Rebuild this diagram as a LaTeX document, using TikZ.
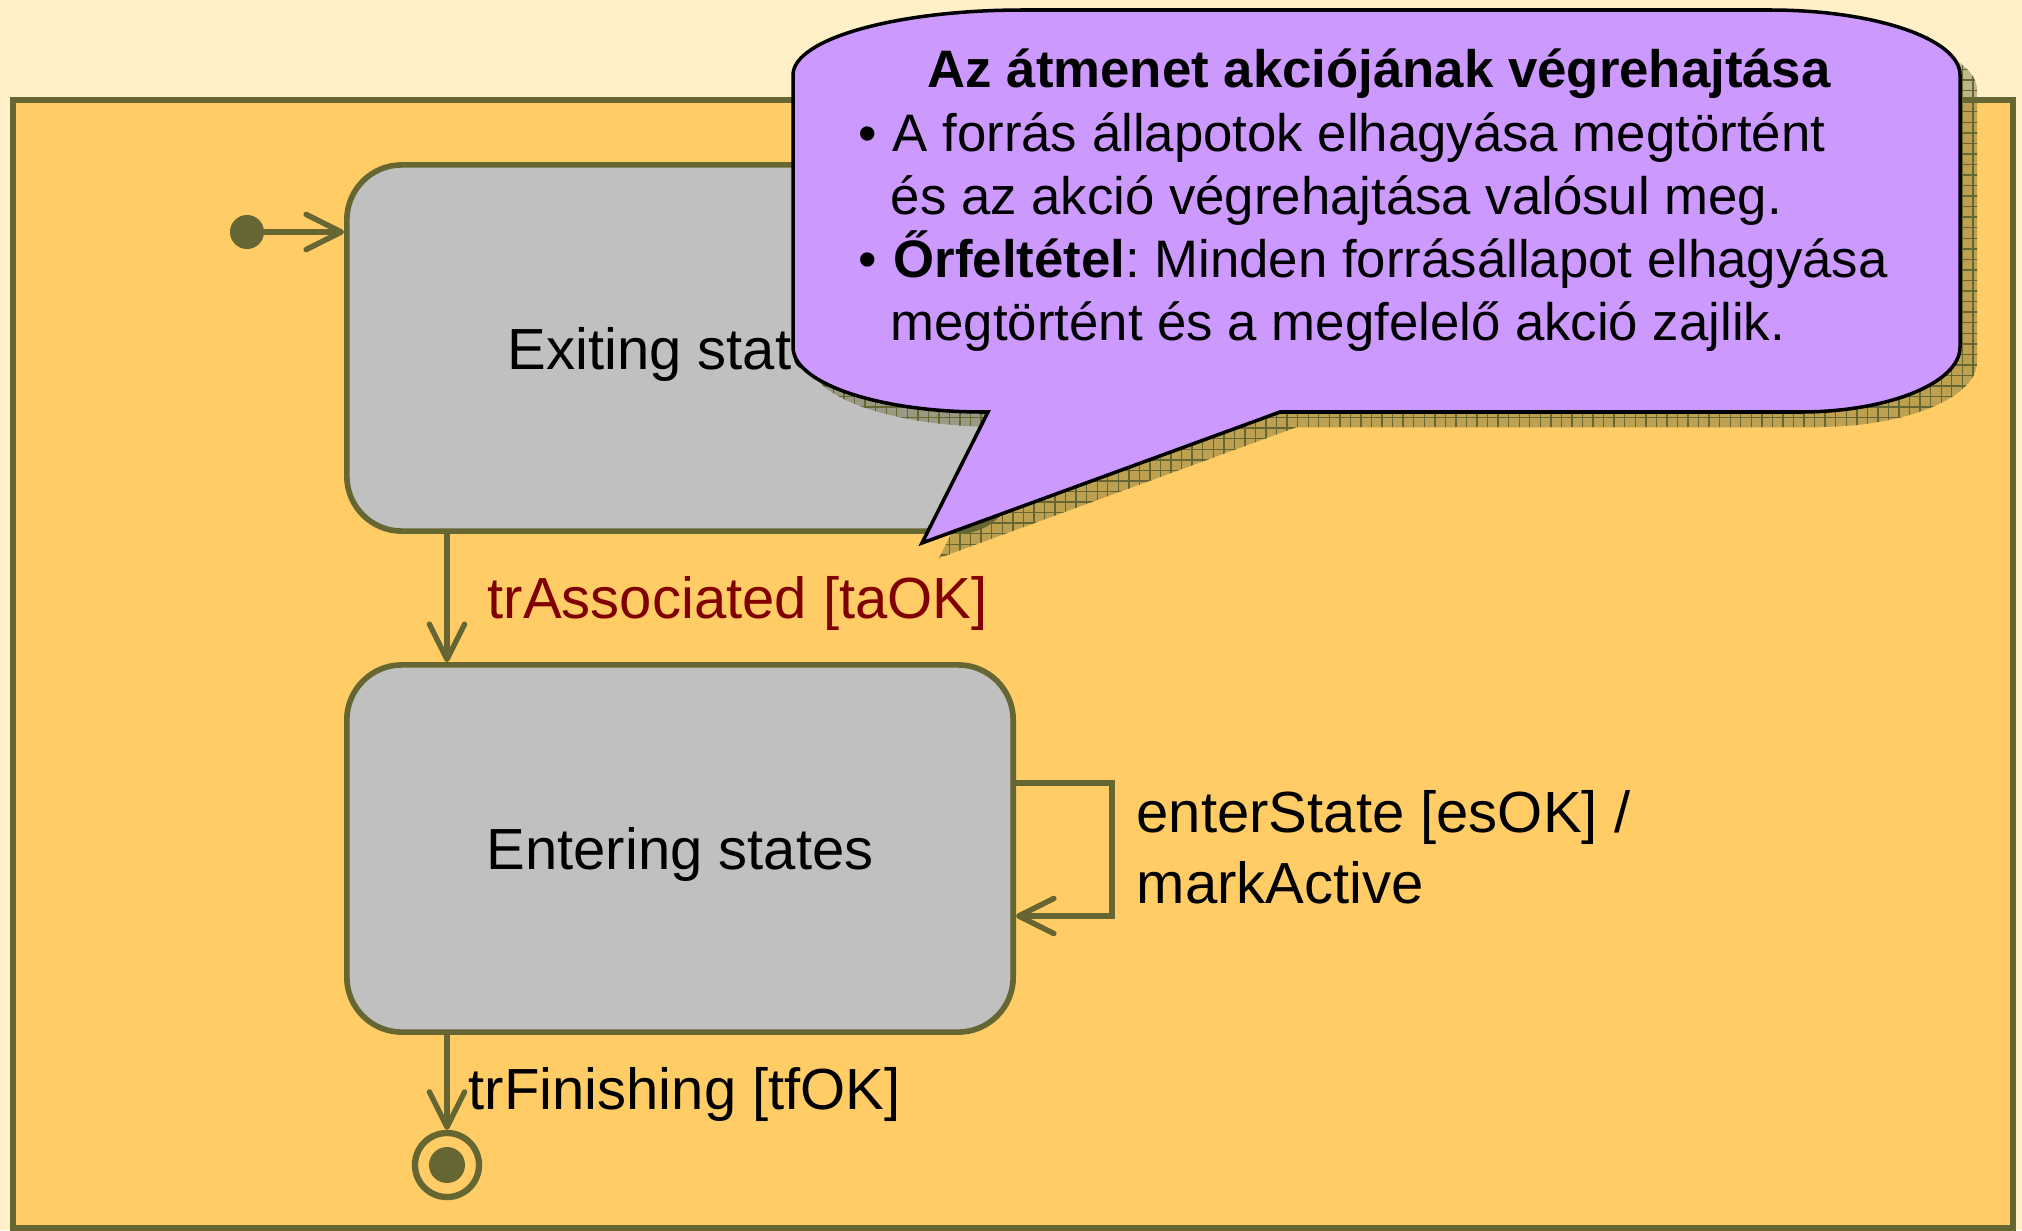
\documentclass[tikz,border=0pt]{standalone}
\usepackage{fontspec}
\setmainfont{Liberation Sans}
\usetikzlibrary{arrows.meta,patterns}
\frenchspacing

\definecolor{paper}{RGB}{255,240,200}
\definecolor{regionFill}{RGB}{255,204,102}
\definecolor{umlOlive}{RGB}{102,102,51}
\definecolor{stateGray}{RGB}{192,192,192}
\definecolor{noteFill}{RGB}{204,153,255}
\definecolor{guardRed}{RGB}{128,0,0}

\newcommand\lblsize{\fontsize{16.5pt}{19.8pt}\selectfont}
\newcommand\notesize{\fontsize{15pt}{18pt}\selectfont}

% outline of the speech-bubble note (elliptic corners, pointer at the bottom)
\newcommand\notepath{(793,75) .. controls (793,39) and (896,10) .. (1023,10)
  -- (1770,10) .. controls (1875,10) and (1960,39) .. (1960,75)
  -- (1960,347) .. controls (1960,383) and (1888,412) .. (1800,412)
  -- (1280,412) -- (922,543) -- (988,412) -- (983,412)
  .. controls (878,412) and (793,383) .. (793,347) -- cycle}

\begin{document}
\begin{tikzpicture}[x=0.01cm,y=-0.01cm,
  statebox/.style={draw=umlOlive, line width=1.6pt, fill=stateGray,
    rounded corners=0.55cm, minimum width=6.66cm, minimum height=3.66cm,
    font=\lblsize, text depth=0pt},
  trans/.style={draw=umlOlive, line width=1.55pt, line cap=round,
    -{Straight Barb[length=10pt,width=10pt,round]}},
  lbl/.style={anchor=base west, inner sep=0pt, font=\lblsize},
  ntext/.style={anchor=base west, inner sep=0pt, font=\notesize},
  pseudo/.style={circle, fill=umlOlive, inner sep=0pt},
]
\useasboundingbox (0,0) rectangle (2022,1230);
\fill[paper] (0,0) rectangle (2022,1230);

% enclosing region
\draw[umlOlive, fill=regionFill, line width=1.8pt] (13,100) rectangle (2013,1228);

% states
\node[statebox] (exit) at (680,348) {Exiting states};
\node[statebox, minimum height=3.67cm] (enter) at (680,848.5) {Entering states};

% pseudostates
\node[pseudo, minimum size=0.34cm] (init) at (247,232) {};
\node[circle, draw=umlOlive, line width=1.8pt, minimum size=0.64cm, inner sep=0pt] (fin) at (447,1165) {};
\node[pseudo, minimum size=0.36cm] (finDot) at (fin.center) {};

% transitions
\draw[trans] (init) -- (init -| exit.west);
\draw[trans] (exit.south -| fin) -- (enter.north -| fin);
\draw[trans] (enter.south -| fin) -- (fin.north);

\coordinate (loopTop) at (1112,783);
\coordinate (loopBot) at (1112,916);
\draw[trans, line cap=butt] (enter.east |- loopTop) -- (loopTop) -- (loopBot) -- (enter.east |- loopBot);

% transition labels
\node[lbl, text=guardRed] (lblAssoc) at (487,618) {trAssociated [taOK]};
\node[lbl] (lblFinish) at (468,1109) {trFinishing [tfOK]};
\node[lbl] (lblLoopA) at (1136,832) {enterState [esOK] /};
\node[lbl] (lblLoopB) at (1136,903) {markActive};

% note shadow
\begin{scope}[shift={(17,15)}]
  \fill[umlOlive, opacity=0.42] \notepath;
  \fill[pattern=grid, pattern color=umlOlive] \notepath;
\end{scope}

% note
\draw[fill=noteFill, line width=1pt, line join=miter] \notepath;

\node[ntext, font=\notesize\bfseries] (noteTitle) at (927,87) {Az átmenet akciójának végrehajtása};
\node[ntext] (bulA) at (858,151) {•};
\node[ntext] (lineA) at (892,151) {A forrás állapotok elhagyása megtörtént};
\node[ntext] (lineB) at (890,214) {és az akció végrehajtása valósul meg.};
\node[ntext] (bulB) at (858,277) {•};
\node[ntext] (lineC) at (893,277) {\textbf{Őrfeltétel}: Minden forrásállapot elhagyása};
\node[ntext] (lineD) at (890,340) {megtörtént és a megfelelő akció zajlik.};
\end{tikzpicture}
\end{document}
